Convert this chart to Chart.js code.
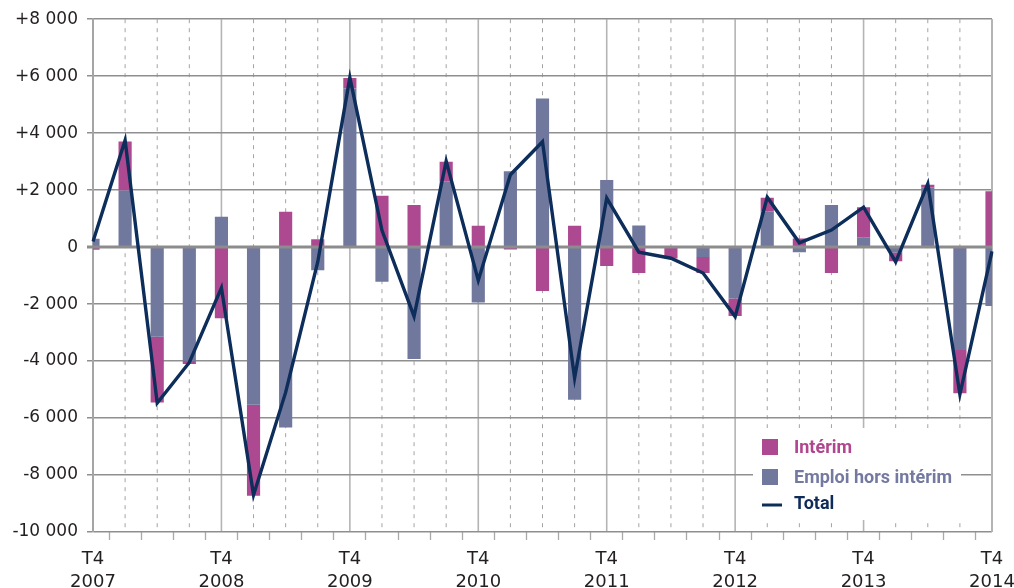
<!DOCTYPE html>
<html lang="fr">
<head>
<meta charset="utf-8">
<title>Intérim et emploi hors intérim</title>
<script src="https://cdn.jsdelivr.net/npm/chart.js@4.4.1/dist/chart.umd.min.js"></script>
<style>
  html, body { margin: 0; padding: 0; background: #fff; }
  #wrap { width: 1014px; height: 588px; position: relative; }
</style>
</head>
<body>
<div id="wrap"><canvas id="chart"></canvas></div>
<script>
// Quarters, T4 2007 -> T4 2014
const quarters = [
    'T4 2007',
    'T1 2008', 'T2 2008', 'T3 2008', 'T4 2008',
    'T1 2009', 'T2 2009', 'T3 2009', 'T4 2009',
    'T1 2010', 'T2 2010', 'T3 2010', 'T4 2010',
    'T1 2011', 'T2 2011', 'T3 2011', 'T4 2011',
    'T1 2012', 'T2 2012', 'T3 2012', 'T4 2012',
    'T1 2013', 'T2 2013', 'T3 2013', 'T4 2013',
    'T1 2014', 'T2 2014', 'T3 2014', 'T4 2014'
];

// Emploi hors intérim
const horsInterim = [
    290,
    1990, -3150, -4000, 1070,
    -5530, -6330, -810, 5570,
    -1220, -3930, 2300, -1940,
    2660, 5220, -5360, 2360,
    760, 0, -350, -1800,
    1250, -180, 1480, 350,
    -200, 2100, -3610, -2070
];

// Intérim
const interim = [
    -90,
    1720, -2300, -100, -2500,
    -3200, 1240, 280, 370,
    1800, 1480, 700, 750,
    -80, -1540, 750, -660,
    -910, -400, -560, -620,
    480, 300, -910, 1050,
    -300, 90, -1520, 1960
];

// Total
const total = [
    200,
    3750, -5470, -4050, -1430,
    -8700, -5100, -520, 5950,
    590, -2430, 3020, -1170,
    2540, 3700, -4600, 1720,
    -180, -390, -910, -2440,
    1750, 150, 600, 1400,
    -520, 2220, -5170, -150
];

const yMin = -10000;
const yMax = 8000;
const yStep = 2000;

const legendItems = ['Intérim', 'Emploi hors intérim', 'Total'];

// Colours
const cInterim = '#ad4990';
const cHors = '#71789d';
const cTotal = '#0d2d5b';
const cInterimText = '#b0468f';
const cHorsText = '#7479a0';
const cTotalText = '#0e2c59';

Chart.defaults.font.family = '"DejaVu Sans", sans-serif';
Chart.defaults.color = '#231f20';

function fmt(v) {
    if (v === 0) return '0';
    const s = Math.abs(v).toString().replace(/\B(?=(\d{3})+(?!\d))/g, ' ');
    return (v > 0 ? '+' : '-') + s;
}

// vertical grid: solid on T4, dashed otherwise
const quarterGrid = {
    id: 'quarterGrid',
    beforeDraw(chart) {
        const { ctx, chartArea: a, scales: { x } } = chart;
        ctx.save();
        quarters.forEach((q, i) => {
            const px = x.getPixelForValue(i);
            ctx.beginPath();
            if (q.startsWith('T4')) {
                ctx.strokeStyle = '#b4b4b4';
                ctx.lineWidth = 1.6;
                ctx.setLineDash([]);
            } else {
                ctx.strokeStyle = '#a3a3a3';
                ctx.lineWidth = 1;
                ctx.setLineDash([4, 5]);
            }
            ctx.moveTo(px, a.top);
            ctx.lineTo(px, a.bottom);
            ctx.stroke();
        });
        ctx.restore();
    }
};

// zero line above the bars, under the total line
const zeroLine = {
    id: 'zeroLine',
    afterDatasetDraw(chart, args) {
        if (args.index !== 0) return;
        const { ctx, chartArea: a, scales: { y } } = chart;
        const py = y.getPixelForValue(0);
        ctx.save();
        ctx.strokeStyle = '#8c8c8c';
        ctx.lineWidth = 3;
        ctx.beginPath();
        ctx.moveTo(a.left - 6, py);
        ctx.lineTo(a.right, py);
        ctx.stroke();
        ctx.restore();
    }
};

// legend box in the lower right of the plot
const boxLegend = {
    id: 'boxLegend',
    afterDraw(chart) {
        const { ctx, chartArea: a } = chart;
        const bx = a.right - 239;
        const by = a.bottom - 104;
        ctx.save();
        ctx.fillStyle = '#fff';
        ctx.fillRect(bx, by, 208, 92);

        ctx.fillStyle = cInterim;
        ctx.fillRect(bx + 9, by + 11, 16, 16);
        ctx.fillStyle = cHors;
        ctx.fillRect(bx + 9, by + 41, 16, 16);
        ctx.strokeStyle = cTotal;
        ctx.lineWidth = 3;
        ctx.beginPath();
        ctx.moveTo(bx + 9, by + 77);
        ctx.lineTo(bx + 29, by + 77);
        ctx.stroke();

        ctx.font = 'bold 18px Roboto, sans-serif';
        ctx.textBaseline = 'alphabetic';
        ctx.textAlign = 'left';
        ctx.fillStyle = cInterimText;
        ctx.fillText(legendItems[0], bx + 41, by + 25);
        ctx.fillStyle = cHorsText;
        ctx.fillText(legendItems[1], bx + 41, by + 55);
        ctx.fillStyle = cTotalText;
        ctx.fillText(legendItems[2], bx + 41, by + 81);
        ctx.restore();
    }
};

// right border
const rightBorder = {
    id: 'rightBorder',
    beforeDatasetsDraw(chart) {
        const { ctx, chartArea: a } = chart;
        ctx.save();
        ctx.strokeStyle = '#b4b4b4';
        ctx.lineWidth = 2;
        ctx.beginPath();
        ctx.moveTo(a.right, a.top);
        ctx.lineTo(a.right, a.bottom);
        ctx.stroke();
        ctx.restore();
    }
};

new Chart(document.getElementById('chart'), {
    type: 'bar',
    data: {
        labels: quarters,
        datasets: [
            {
                label: legendItems[1],
                data: horsInterim,
                backgroundColor: cHors,
                order: 1,
                clip: 0,
                categoryPercentage: 1,
                barPercentage: 0.41
            },
            {
                label: legendItems[0],
                data: interim,
                backgroundColor: cInterim,
                order: 2,
                clip: 0,
                categoryPercentage: 1,
                barPercentage: 0.41
            },
            {
                type: 'line',
                label: legendItems[2],
                data: total,
                stack: 'total',
                borderColor: cTotal,
                borderWidth: 3.4,
                borderJoinStyle: 'miter',
                pointRadius: 0,
                tension: 0,
                fill: false,
                order: 0
            }
        ]
    },
    options: {
        responsive: true,
        maintainAspectRatio: false,
        animation: false,
        layout: { padding: { top: 17, right: 22, left: 0, bottom: 0 } },
        plugins: {
            legend: { display: false },
            tooltip: { enabled: false }
        },
        scales: {
            x: {
                stacked: true,
                offset: false,
                grid: {
                    drawOnChartArea: false,
                    drawTicks: true,
                    tickLength: 8,
                    tickColor: '#aaaaaa',
                    tickWidth: 1.3
                },
                border: { display: false },
                ticks: {
                    autoSkip: false,
                    maxRotation: 0,
                    padding: 8,
                    font: { size: 18, lineHeight: 1.28 },
                    color: '#231f20',
                    callback: (v, i) => quarters[i].startsWith('T4') ? quarters[i].split(' ') : ''
                },
                afterFit: (s) => {
                    s.height = 56;
                    s.paddingLeft = 0;
                    s.paddingRight = 0;
                }
            },
            y: {
                stacked: true,
                min: yMin,
                max: yMax,
                grid: {
                    color: '#8f8f8f',
                    lineWidth: 1.5,
                    tickLength: 6
                },
                border: { display: true, color: '#a5a5a5', width: 2 },
                ticks: {
                    stepSize: yStep,
                    padding: 9,
                    font: { size: 17 },
                    color: '#231f20',
                    callback: (v) => fmt(v)
                },
                afterFit: (s) => { s.width = 93; }
            }
        }
    },
    plugins: [quarterGrid, zeroLine, rightBorder, boxLegend]
});
</script>
</body>
</html>
